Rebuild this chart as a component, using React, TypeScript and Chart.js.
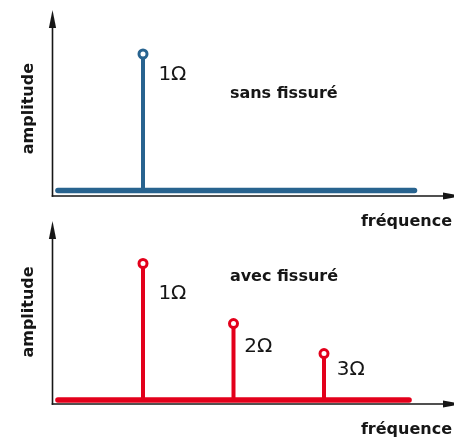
import React, { useEffect, useRef } from "react";
import { Chart, registerables } from "chart.js";

Chart.register(...registerables);

// ---- data ----
const topStemFreq = [1];
const topStemAmp = [1];
const bottomStemFreq = [1, 2, 3];
const bottomStemAmp = [1, 0.56, 0.34];
const topBaseline = [0.06, 4.0];
const bottomBaseline = [0.06, 3.94];
const topPeakLabels = ["1Ω"];
const bottomPeakLabels = ["1Ω", "2Ω", "3Ω"];
const topPeakLabelX = [1.17];
const topPeakLabelY = [0.85];
const bottomPeakLabelX = [1.17, 2.12, 3.14];
const bottomPeakLabelY = [0.78, 0.39, 0.22];
const topCaption = "sans fissuré";
const bottomCaption = "avec fissuré";
const captionX = 1.96;
const topCaptionY = 0.707;
const bottomCaptionY = 0.9;
const xTitle = "fréquence";
const yTitle = "amplitude";

const BLUE = "#28638f";
const RED = "#e3001b";
const INK = "#161616";
const FONT = '"DejaVu Sans", sans-serif';

type PanelProps = {
  color: string;
  stemFreq: number[];
  stemAmp: number[];
  baseline: number[];
  peakLabels: string[];
  peakX: number[];
  peakY: number[];
  caption: string;
  captionY: number;
  yMin: number;
  yMax: number;
  padTop: number;
  padBottom: number;
  yTitleAt: number;
  offsetTop: number;
  height: number;
};

function Panel(p: PanelProps) {
  const ref = useRef<HTMLCanvasElement | null>(null);
  useEffect(() => {
    const canvas = ref.current;
    if (!canvas) return;

    const decor = {
      id: "decor",
      beforeDatasetsDraw(chart: any) {
        const { ctx, chartArea } = chart;
        const { left, right, top, bottom } = chartArea;
        ctx.save();
        ctx.strokeStyle = INK;
        ctx.fillStyle = INK;
        ctx.lineWidth = 1.6;
        // y axis
        ctx.beginPath();
        ctx.moveTo(left, bottom + 0.8);
        ctx.lineTo(left, top + 12);
        ctx.stroke();
        ctx.beginPath();
        ctx.moveTo(left, top);
        ctx.lineTo(left - 3.6, top + 18);
        ctx.lineTo(left + 3.6, top + 18);
        ctx.closePath();
        ctx.fill();
        // x axis
        ctx.beginPath();
        ctx.moveTo(left - 0.8, bottom);
        ctx.lineTo(right - 8, bottom);
        ctx.stroke();
        ctx.beginPath();
        ctx.moveTo(right + 7, bottom);
        ctx.lineTo(right - 11, bottom - 3.6);
        ctx.lineTo(right - 11, bottom + 3.6);
        ctx.closePath();
        ctx.fill();
        ctx.restore();
      },
      afterDraw(chart: any) {
        const { ctx, chartArea, scales } = chart;
        const xs = scales.x;
        const ys = scales.y;
        ctx.save();
        ctx.fillStyle = INK;
        // peak labels
        ctx.font = `20px ${FONT}`;
        ctx.textAlign = "left";
        ctx.textBaseline = "middle";
        p.peakLabels.forEach((t, i) => {
          ctx.fillText(t, xs.getPixelForValue(p.peakX[i]), ys.getPixelForValue(p.peakY[i]));
        });
        // caption
        ctx.font = `bold 16px ${FONT}`;
        ctx.fillText(p.caption, xs.getPixelForValue(captionX), ys.getPixelForValue(p.captionY));
        // x title
        ctx.textAlign = "right";
        ctx.textBaseline = "alphabetic";
        ctx.fillText(xTitle, chart.width - 2, chartArea.bottom + 30);
        // y title
        ctx.translate(33, ys.getPixelForValue(p.yTitleAt));
        ctx.rotate(-Math.PI / 2);
        ctx.textAlign = "center";
        ctx.fillText(yTitle, 0, 0);
        ctx.restore();
      },
    };

    const datasets: any[] = [
      {
        data: [
          { x: p.baseline[0], y: 0 },
          { x: p.baseline[1], y: 0 },
        ],
        showLine: true,
        borderColor: p.color,
        borderWidth: 5.5,
        borderCapStyle: "round",
        pointRadius: 0,
        clip: false,
        order: 3,
      },
      ...p.stemFreq.map((f, i) => ({
        data: [
          { x: f, y: 0 },
          { x: f, y: p.stemAmp[i] },
        ],
        showLine: true,
        borderColor: p.color,
        borderWidth: 4,
        pointRadius: 0,
        clip: false,
        order: 2,
      })),
      {
        data: p.stemFreq.map((f, i) => ({ x: f, y: p.stemAmp[i] })),
        showLine: false,
        pointRadius: 4,
        pointBorderWidth: 3,
        pointBackgroundColor: "#ffffff",
        pointBorderColor: p.color,
        clip: false,
        order: 1,
      },
    ];

    const chart = new Chart(canvas, {
      type: "scatter",
      data: { datasets },
      options: {
        animation: false,
        responsive: false,
        events: [],
        layout: {
          autoPadding: false,
          padding: { left: 52.5, right: 0, top: p.padTop, bottom: p.padBottom },
        },
        plugins: { legend: { display: false }, tooltip: { enabled: false } },
        scales: {
          x: { type: "linear", display: false, min: 0, max: 401.5 / 90.5 },
          y: { type: "linear", display: false, min: p.yMin, max: p.yMax },
        },
      },
      plugins: [decor],
    } as any);
    return () => chart.destroy();
  }, []);
  return (
    <canvas
      ref={ref}
      width={454}
      height={p.height}
      style={{ position: "absolute", left: 0, top: p.offsetTop, display: "block", width: 454, height: p.height }}
    />
  );
}

export default function App() {
  return (
    <div style={{ position: "fixed", left: 0, top: 0, width: 454, height: 440, overflow: "hidden", background: "#fff" }}>
      <Panel
        color={BLUE}
        stemFreq={topStemFreq}
        stemAmp={topStemAmp}
        baseline={topBaseline}
        peakLabels={topPeakLabels}
        peakX={topPeakLabelX}
        peakY={topPeakLabelY}
        caption={topCaption}
        captionY={topCaptionY}
        yMin={-5.5 / 136.5}
        yMax={180.5 / 136.5}
        padTop={10}
        padBottom={36}
        yTitleAt={0.6}
        offsetTop={0}
        height={232}
      />
      <Panel
        color={RED}
        stemFreq={bottomStemFreq}
        stemAmp={bottomStemAmp}
        baseline={bottomBaseline}
        peakLabels={bottomPeakLabels}
        peakX={bottomPeakLabelX}
        peakY={bottomPeakLabelY}
        caption={bottomCaption}
        captionY={bottomCaptionY}
        yMin={-4 / 136.5}
        yMax={179 / 136.5}
        padTop={1}
        padBottom={36}
        yTitleAt={0.645}
        offsetTop={220}
        height={220}
      />
    </div>
  );
}
